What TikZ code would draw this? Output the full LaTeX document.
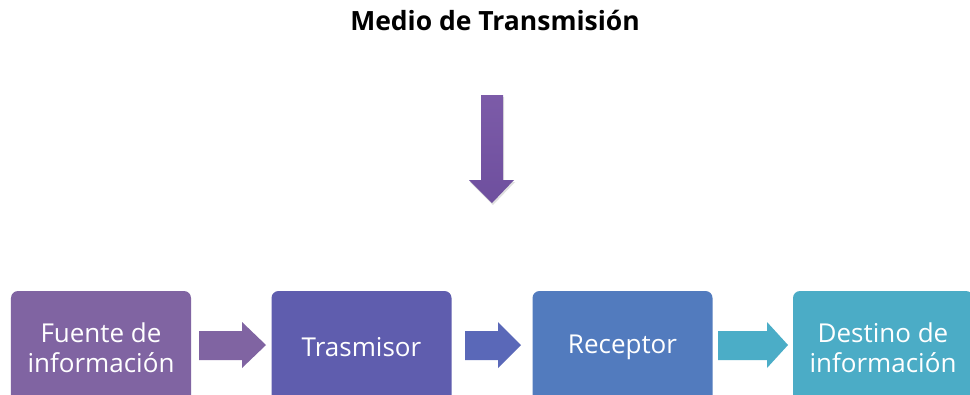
\documentclass[tikz,border=0pt]{standalone}
\usepackage{fontspec}
\setmainfont{Open Sans}
\usetikzlibrary{shadows,calc}
\definecolor{cA}{HTML}{8064A2}
\definecolor{cB}{HTML}{5F5DAE}
\definecolor{cC}{HTML}{527BBE}
\definecolor{cD}{HTML}{4BACC6}
\definecolor{aA}{HTML}{8064A2}
\definecolor{aB}{HTML}{5A68B8}
\definecolor{aC}{HTML}{4BADC7}
\definecolor{vTop}{HTML}{7C5BA8}
\definecolor{vBot}{HTML}{6E4F9E}
\tikzset{
  procbox/.style={rounded corners=7bp, minimum width=180bp, minimum height=113bp,
    inner sep=0pt, text=white, align=center,
    font=\fontsize{26bp}{30bp}\selectfont},
  blockarrow/.style={draw=none}
}
\begin{document}
\begin{tikzpicture}[x=1bp,y=-1bp]
\useasboundingbox (0,0) rectangle (970,394);
\clip (0,0) rectangle (970,394);
\fill[white] (0,0) rectangle (970,394);
% title
\node[font=\bfseries\fontsize{26.5bp}{30bp}\selectfont, anchor=base] (title) at (495,30) {Medio de Transmisión};
% boxes
\node[procbox, fill=cA] (f) at (101,347.5) {Fuente de\\información};
\node[procbox, fill=cB] (t) at (361.5,347.5) {Trasmisor};
\node[procbox, fill=cC] (r) at (622.5,347.5) {Receptor};
\node[procbox, fill=cD] (d) at (883,347.5) {Destino de\\información};
% horizontal block arrows
\fill[aA] (199,331) -- (242,331) -- (242,322) -- (266,345) -- (242,368) -- (242,360) -- (199,360) -- cycle;
\fill[aB] (465,331) -- (498,331) -- (498,322) -- (521,345) -- (498,368) -- (498,360) -- (465,360) -- cycle;
\fill[aC] (718,331) -- (767,331) -- (767,322) -- (788,345) -- (767,368) -- (767,360) -- (718,360) -- cycle;
% vertical arrow
\shade[top color=vTop, bottom color=vBot, drop shadow={opacity=0.25, shadow xshift=1bp, shadow yshift=-2bp}]
  (481,95) -- (503,95) -- (503,180) -- (514,180) -- (492,203) -- (469,180) -- (481,180) -- cycle;
\end{tikzpicture}
\end{document}
